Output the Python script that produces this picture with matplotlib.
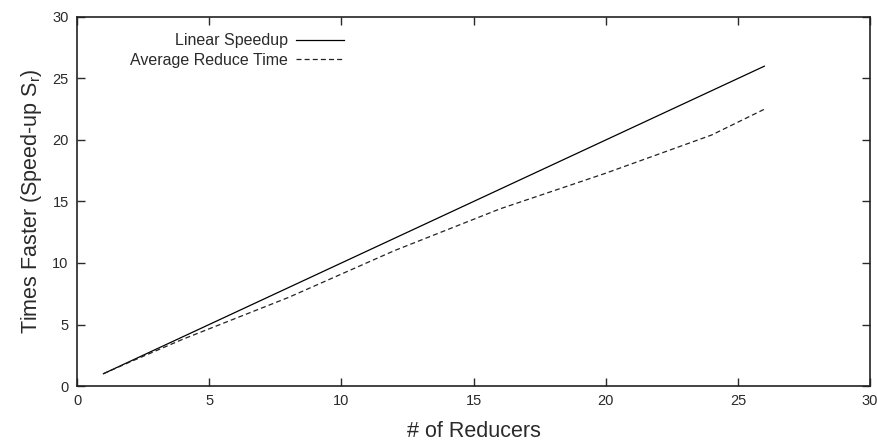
import matplotlib
matplotlib.use("Agg")
import matplotlib.pyplot as plt

# number of reducers and measured speed-up
reducers = [1, 2, 4, 8, 12, 16, 20, 24, 26]
linear_speedup = [1, 2, 4, 8, 12, 16, 20, 24, 26]
avg_reduce = [1.0, 1.95, 3.8, 7.2, 11.0, 14.4, 17.3, 20.4, 22.5]

xticks = [0, 5, 10, 15, 20, 25, 30]
yticks = [0, 5, 10, 15, 20, 25, 30]

plt.rcParams['font.family'] = ['Liberation Sans', 'DejaVu Sans']
plt.rcParams['mathtext.fontset'] = 'custom'
plt.rcParams['mathtext.rm'] = 'Liberation Sans'
plt.rcParams['mathtext.it'] = 'Liberation Sans'

fig = plt.figure(figsize=(8.78, 4.41), dpi=100)
ax = fig.add_axes([0.0877, 0.1247, 0.9033, 0.8368])

ax.plot(reducers, linear_speedup, color='black', linewidth=0.9, label='Linear Speedup')
ax.plot(reducers, avg_reduce, color='#222222', linewidth=0.9, dashes=(4, 2.5),
        label='Average Reduce Time')

ax.set_xlim(0, 30)
ax.set_ylim(0, 30)
ax.set_xticks(xticks)
ax.set_yticks(yticks)
ax.tick_params(direction='in', length=6, width=1, top=True, right=True,
               labelsize=10.5, colors='#2a2a2a', pad=6)
for s in ax.spines.values():
    s.set_linewidth(1.2)
    s.set_color('#222222')

ax.set_xlabel('# of Reducers', fontsize=15.5, color='#2a2a2a', labelpad=9)
ax.set_ylabel('Times Faster (Speed-up S$_\\mathregular{r}$)', fontsize=15.5,
              color='#2a2a2a', labelpad=6)

leg = ax.legend(loc='upper right', bbox_to_anchor=(0.355, 0.995), frameon=False,
                markerfirst=False, fontsize=11.5, handlelength=3.0,
                handletextpad=0.5, labelspacing=0.3)
for t in leg.get_texts():
    t.set_ha('right')
    t.set_color('#2a2a2a')

fig.savefig('out.png', dpi=100)
